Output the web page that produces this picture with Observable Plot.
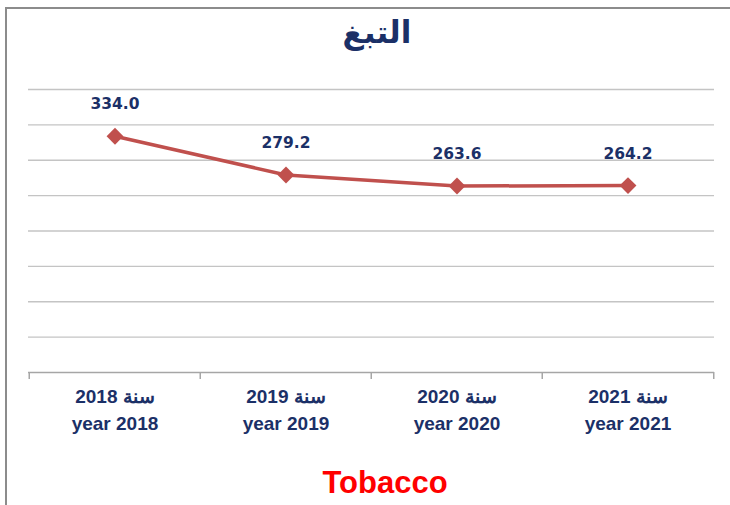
<!DOCTYPE html>
<html>
<head>
<meta charset="utf-8">
<script src="https://cdn.jsdelivr.net/npm/d3@7"></script>
<script src="https://cdn.jsdelivr.net/npm/@observablehq/plot@0.6"></script>
<style>
  html, body { margin: 0; padding: 0; background: #fff; }
  #wrap { position: relative; width: 730px; height: 505px; overflow: hidden; background: #fff; }
  #frame { position: absolute; left: 5px; top: 7px; width: 800px; height: 600px;
           border-left: 2px solid #8c8c8c; border-top: 2px solid #8c8c8c; box-sizing: border-box; }
  #title { position: relative; height: 50px; text-align: center; color: #1B3067;
           font-family: "DejaVu Sans", sans-serif; font-weight: bold; font-size: 31px;
           line-height: 1; padding-top: 17px; box-sizing: border-box; padding-left: 24px; }
  #chart { position: relative; height: 410px; }
  #caption { position: relative; height: 45px; text-align: center; color: #FF0000;
             font-family: "Liberation Sans", Arial, sans-serif; font-weight: bold; font-size: 31px;
             line-height: 45px; padding-left: 40px; box-sizing: border-box; }
</style>
</head>
<body>
<div id="wrap">
  <div id="frame"></div>
  <div id="title">التبغ</div>
  <div id="chart"></div>
  <div id="caption">Tobacco</div>
</div>
<script>
// ---- data ----
const years = ["2018", "2019", "2020", "2021"];
const values = [334.0, 279.2, 263.6, 264.2];
const arPrefix = "سنة";
const enPrefix = "year";
const yTicks = [0, 50, 100, 150, 200, 250, 300, 350, 400];

const data = years.map((y, i) => ({year: y, value: values[i]}));

const W = 730, H = 410;
const mL = 28, mR = 16, mT = 39, mB = 88;
const bw = (W - mL - mR) / years.length;
const navy = "#1B3067";
const lineColor = "#C0504D";

const chart = Plot.plot({
  width: W,
  height: H,
  marginLeft: mL,
  marginRight: mR,
  marginTop: mT,
  marginBottom: mB,
  x: {type: "band", domain: years, padding: 0, axis: null},
  y: {domain: [0, 400], axis: null},
  marks: [
    Plot.ruleY(yTicks.filter(t => t > 0), {stroke: "#c4c4c4", strokeWidth: 1.3}),
    Plot.ruleY([0], {stroke: "#a6a6a6", strokeWidth: 1.5}),
    Plot.ruleX(years, {x: d => d, dx: -bw / 2, insetTop: H - mT - mB, insetBottom: -7, stroke: "#a6a6a6", strokeWidth: 1.5}),
    Plot.ruleX(years.slice(-1), {x: d => d, dx: bw / 2, insetTop: H - mT - mB, insetBottom: -7, stroke: "#a6a6a6", strokeWidth: 1.5}),
    Plot.line(data, {x: "year", y: "value", stroke: lineColor, strokeWidth: 3.5}),
    Plot.dot(data, {x: "year", y: "value", symbol: "diamond2", r: 7.6, fill: lineColor, stroke: "none"}),
    Plot.text(data, {x: "year", y: "value", text: d => d.value.toFixed(1), dy: -32,
      fill: navy, fontFamily: "DejaVu Sans, sans-serif", fontWeight: "bold", fontSize: 15.5}),
    Plot.text(years, {x: d => d, text: d => "\u202B" + arPrefix + " " + d + "\u202C", frameAnchor: "bottom", dy: 30,
      fill: navy, fontFamily: "Liberation Sans, Arial, sans-serif", fontWeight: "bold", fontSize: 19}),
    Plot.text(years, {x: d => d, text: d => enPrefix + " " + d, frameAnchor: "bottom", dy: 57,
      fill: navy, fontFamily: "Liberation Sans, Arial, sans-serif", fontWeight: "bold", fontSize: 19})
  ]
});
document.getElementById("chart").appendChild(chart);
</script>
</body>
</html>
